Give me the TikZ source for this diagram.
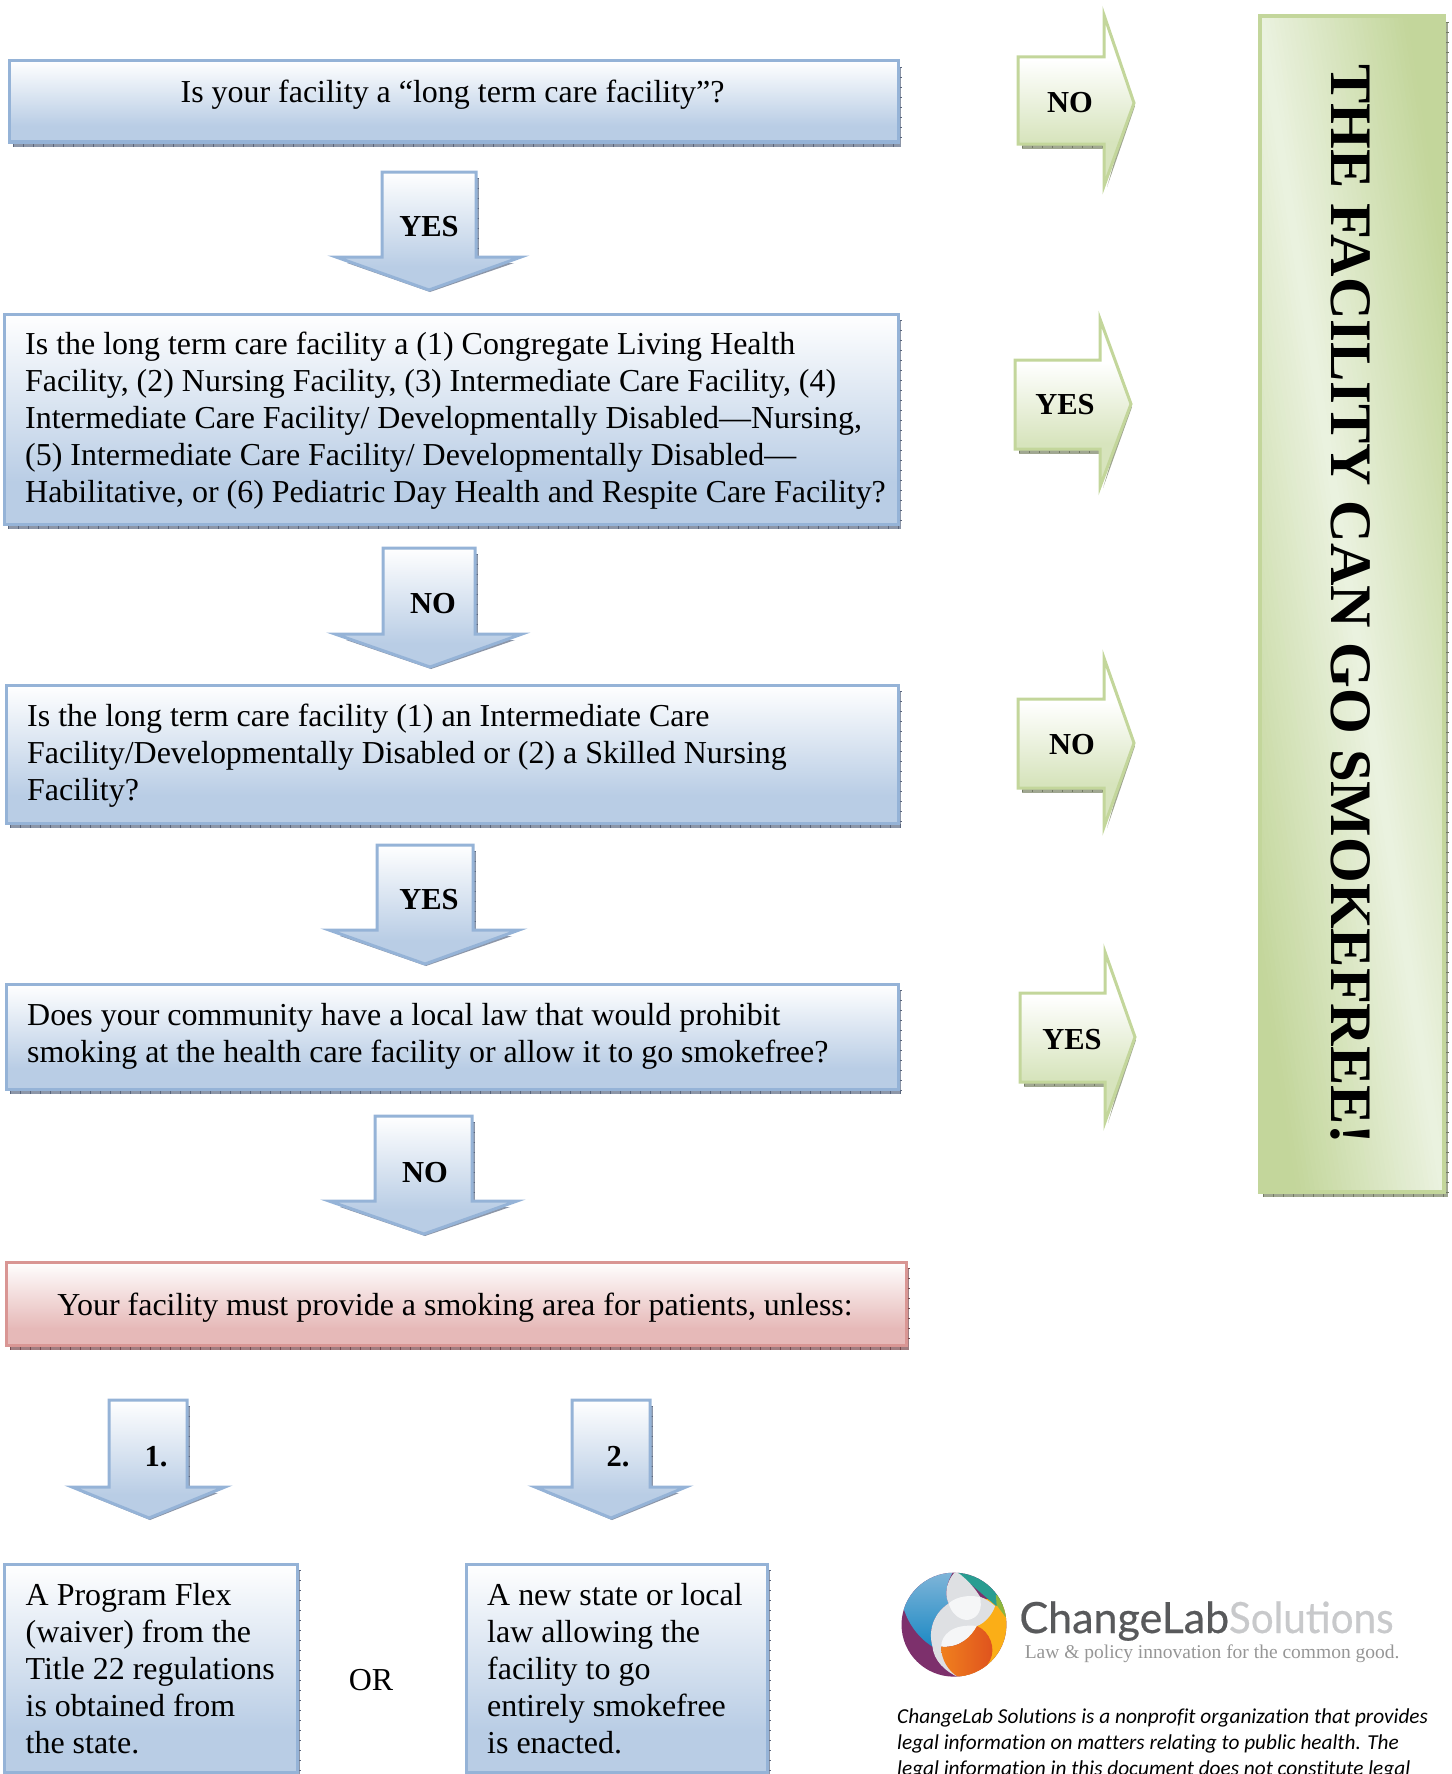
\documentclass[tikz,border=0pt]{standalone}
\usepackage{fontspec}
\setmainfont{Liberation Serif}
\newfontfamily\calibrifont[Ligatures=NoCommon]{Carlito}
\newfontfamily\logofont{Lato}
\newfontfamily\logoheavy[FakeBold=0.5]{Lato}
\definecolor{bl}{HTML}{B9CDE5}
\definecolor{bledge}{HTML}{95B3D7}
\definecolor{rd}{HTML}{E6B9B8}
\definecolor{rdedge}{HTML}{D99694}
\definecolor{gr}{HTML}{D7E4BD}
\definecolor{grdeep}{HTML}{C3D69B}
\definecolor{grlight}{HTML}{EBF2E0}
\pgfdeclareverticalshading{blueg}{100bp}{color(0bp)=(bl); color(35bp)=(bl); color(75bp)=(white); color(100bp)=(white)}
\pgfdeclareverticalshading{redg}{100bp}{color(0bp)=(rd); color(35bp)=(rd); color(75bp)=(white); color(100bp)=(white)}
\pgfdeclareverticalshading{greeng}{100bp}{color(0bp)=(gr); color(38bp)=(gr); color(62bp)=(white); color(100bp)=(white)}
\tikzset{
  blueface/.style={shading=blueg,draw=bledge,line width=3pt,miter limit=20},
  redface/.style={shading=redg,draw=rdedge,line width=3pt,miter limit=20},
  greenface/.style={shading=greeng,draw=grdeep,line width=3pt,miter limit=20},
  blueshadow/.style={fill={rgb,255:red,140;green,150;blue,168}},
  redshadow/.style={fill={rgb,255:red,160;green,125;blue,128}},
  greenshadow/.style={fill={rgb,255:red,160;green,167;blue,145}},
  blueticks/.style={draw={rgb,255:red,90;green,102;blue,125},line width=4pt,dash pattern=on 1pt off 9pt},
  redticks/.style={draw={rgb,255:red,120;green,75;blue,78},line width=4pt,dash pattern=on 1pt off 9pt},
  greenticks/.style={draw={rgb,255:red,115;green,122;blue,100},line width=4pt,dash pattern=on 1pt off 9pt},
  body/.style={inner sep=0pt,anchor=north west,align=left,font=\fontsize{31.95}{37}\selectfont},
  centred/.style={inner sep=0pt,anchor=base,font=\fontsize{31.95}{37}\selectfont},
  tag/.style={inner sep=0pt,anchor=base,font=\fontsize{30.5}{36}\selectfont\bfseries},
}
\newcommand{\fl}{\rule{0pt}{24pt}}
% x1 y1 x2 y2 kind
\newcommand{\panel}[5]{%
  \fill[#5shadow] (#1+4,#2+6) rectangle (#3+3,#4+4.5);
  \draw[#5ticks] (#1+4,#4+2.5) -- (#3+3,#4+2.5);
  \draw[#5ticks] (#3+1.5,#2+6) -- (#3+1.5,#4+2);
  \path[#5face] (#1,#2) rectangle (#3,#4);
}
% shaftL shaftR top shaftBot headL headR tipX tipY
\newcommand{\downblock}[8]{%
  \fill[blueshadow] (#2,#3+6) -- (#2+3,#3+6) -- (#2+3,#4) -- (#2,#4) -- cycle;
  \fill[blueshadow] (#6-14,#4+6) -- (#7+1,#8+2) -- (#5+18,#4+6) -- cycle;
  \draw[blueticks,line width=2pt] (#2+2,#3+6) -- (#2+2,#4);
  \path[blueface] (#1,#3) -- (#2,#3) -- (#2,#4) -- (#6-7,#4) -- (#7,#8) -- (#5+7,#4) -- (#1,#4) -- cycle;
}
% shaftL shaftT shaftB headX headT headB tipX tipY
\newcommand{\rightblock}[8]{%
  \fill[greenshadow] (#1+4,#3) -- (#1+4,#3+5) -- (#4,#3+5) -- (#4,#3) -- cycle;
  \fill[greenshadow] (#4+3,#6-6) -- (#7+1,#8+3) -- (#7-3,#8) -- cycle;
  \draw[greenticks,line width=2pt] (#1+4,#3+3) -- (#4,#3+3);
  \path[greenface] (#1,#2) -- (#4,#2) -- (#4,#5+7) -- (#7,#8) -- (#4,#6-7) -- (#4,#3) -- (#1,#3) -- cycle;
}
\begin{document}
\begin{tikzpicture}[x=1pt,y=-1pt]
\useasboundingbox (0,0) rectangle (1451,1774);
\clip (0,0) rectangle (1451,1774);

% question panels
\panel{9}{61}{898}{142}{blue}
\panel{4}{314}{898}{524}{blue}
\panel{6}{685}{898}{823}{blue}
\panel{6}{984}{898}{1089}{blue}
\panel{6}{1262}{906}{1345}{red}
\panel{4}{1564}{297}{1772}{blue}
\panel{466}{1564}{767}{1772}{blue}

\node[centred] (q1) at (452.5,103) {Is your facility a “long term care facility”?};
\node[body] (q2) at (25,330) {\fl Is the long term care facility a (1) Congregate Living Health\\Facility, (2) Nursing Facility, (3) Intermediate Care Facility, (4)\\Intermediate Care Facility/ Developmentally Disabled—Nursing,\\(5) Intermediate Care Facility/ Developmentally Disabled—\\Habilitative, or (6) Pediatric Day Health and Respite Care Facility?};
\node[body] (q3) at (27,702.5) {\fl Is the long term care facility (1) an Intermediate Care\\Facility/Developmentally Disabled or (2) a Skilled Nursing\\Facility?};
\node[body] (q4) at (27,1001) {\fl Does your community have a local law that would prohibit\\smoking at the health care facility or allow it to go smokefree?};
\node[centred] (q5) at (455,1315) {Your facility must provide a smoking area for patients, unless:};
\node[body] (opt1) at (25.5,1581) {\fl A Program Flex\\(waiver) from the\\Title 22 regulations\\is obtained from\\the state.};
\node[body] (opt2) at (487,1581) {\fl A new state or local\\law allowing the\\facility to go\\entirely smokefree\\is enacted.};
\node[centred] (or) at (371,1690) {OR};

% down arrows
\downblock{382}{476}{172}{257}{329}{528}{429}{290}
\downblock{383}{475}{548}{634}{328}{529}{430}{667}
\downblock{377}{473}{845}{930}{322}{526}{425}{964}
\downblock{375}{472}{1116}{1201}{322}{524}{424}{1234}
\downblock{109}{187}{1400}{1487}{65}{232}{149}{1518}
\downblock{572}{650}{1400}{1487}{528}{693}{611}{1518}
\node[tag] (d1) at (429,236) {YES};
\node[tag] (d2) at (433,613) {NO};
\node[tag] (d3) at (429,909) {YES};
\node[tag] (d4) at (425,1182) {NO};
\node[tag] (d5) at (156,1466) {1.};
\node[tag] (d6) at (618,1466) {2.};

% right arrows
\rightblock{1018}{57}{144}{1104}{8}{193}{1134}{103}
\rightblock{1015}{360}{449}{1100}{312}{494}{1131}{404}
\rightblock{1018}{699}{788}{1104}{651}{834}{1134}{743}
\rightblock{1020}{993}{1082}{1105}{945}{1129}{1135}{1037}
\node[tag] (r1) at (1070,113) {NO};
\node[tag] (r2) at (1065,414) {YES};
\node[tag] (r3) at (1072,754) {NO};
\node[tag] (r4) at (1072,1049) {YES};

% result panel
\fill[greenshadow] (1263,22) rectangle (1448,1197);
\draw[greenticks] (1263,1195) -- (1448,1195);
\draw[greenticks] (1446.5,22) -- (1446.5,1195);
\begin{scope}
  \clip (1260,16) rectangle (1444,1192);
  \foreach \i in {0,...,79}{
    \pgfmathsetmacro{\tl}{-1+\i/40}
    \pgfmathsetmacro{\tr}{\tl+0.04}
    \pgfmathsetmacro{\mixv}{100*max(0,1-abs(\tl+0.0125)/0.8)}
    \fill[color=grlight!\mixv!grdeep] ({1260+\tl*184},16) -- ({1260+\tr*184},16) -- ({1444+\tr*184},1192) -- ({1444+\tl*184},1192) -- cycle;
  }
\end{scope}
\draw[grdeep,line width=3.5pt] (1260,16) rectangle (1444,1192);
\node[inner sep=0pt,anchor=base west,rotate=-90,font=\fontsize{58.8}{60}\selectfont\bfseries] (result) at (1331,64) {THE FACILITY CAN GO SMOKEFREE!};

% logo
\begin{scope}[shift={(860,1540)},x=0.3774pt,y=-0.3333pt]
  \begin{scope}
    \clip (249,254) ellipse [x radius=139,y radius=156];
    \fill[color={rgb,255:red,125;green,48;blue,108}] (100,90) rectangle (400,420);
    \fill[color={rgb,255:red,251;green,174;blue,23}] (300,170) -- (400,190) -- (400,420) -- (265,420) -- cycle;
    \fill[color={rgb,255:red,41;green,157;blue,145}] (250,90) -- (400,90) -- (400,200) -- (360,197) -- cycle;
    \fill[color={rgb,255:red,141;green,182;blue,60}] (360,165) -- (400,165) -- (400,240) -- (385,230) -- (362,195) -- cycle;
    \shade[top color={rgb,255:red,130;green,182;blue,217},bottom color={rgb,255:red,28;green,137;blue,196}] (250,90) .. controls (225,130) and (225,170) .. (235,190) .. controls (195,220) and (180,270) .. (192,320) .. controls (150,290) and (120,240) .. (110,180) -- (110,90) -- cycle;
    \fill[color={rgb,255:red,222;green,224;blue,227}] (250,98) .. controls (225,130) and (225,170) .. (235,190) .. controls (195,220) and (180,270) .. (192,320) .. controls (195,360) and (225,395) .. (262,412) .. controls (230,380) and (215,350) .. (215,320) -- (310,258) .. controls (330,250) and (350,225) .. (358,198) .. controls (345,185) and (330,175) .. (318,170) .. controls (305,145) and (285,120) .. (262,100) -- cycle;
    \fill[color={rgb,255:red,245;green,246;blue,247}] (235,190) .. controls (260,165) and (300,165) .. (318,172) .. controls (325,205) and (315,235) .. (285,240) .. controls (260,240) and (240,215) .. (235,190) -- cycle;
    \fill[color={rgb,255:red,245;green,246;blue,247}] (215,320) .. controls (215,285) and (245,250) .. (310,258) .. controls (295,290) and (265,325) .. (215,320) -- cycle;
    \shade[left color={rgb,255:red,240;green,128;blue,30},right color={rgb,255:red,222;green,80;blue,30}] (215,320) .. controls (265,325) and (295,290) .. (310,258) .. controls (345,275) and (360,325) .. (345,360) .. controls (330,395) and (295,412) .. (262,412) .. controls (235,395) and (215,360) .. (215,320) -- cycle;
  \end{scope}
  \node[inner sep=0pt,anchor=base west,font=\logoheavy\fontsize{43}{43}\selectfont,text={rgb,255:red,88;green,89;blue,91}] (logo1) at (422,279) {ChangeLab};
  \node[inner sep=0pt,anchor=base west,font=\logoheavy\fontsize{43}{43}\selectfont,text={rgb,255:red,200;green,201;blue,203}] (logo2) at (977,279) {\scalebox{0.94}[1]{Solutions}};
  \node[inner sep=0pt,anchor=base west,font=\fontsize{19.5}{20}\selectfont,text={rgb,255:red,150;green,150;blue,150}] (logo3) at (436,355) {Law \& policy innovation for the common good.};
\end{scope}
\node[inner sep=0pt,anchor=north west,align=left,font=\calibrifont\itshape\fontsize{21.3}{26}\selectfont] (foot) at (897,1705) {\rule{0pt}{18pt}ChangeLab Solutions is a nonprofit organization that provides\\legal information on matters relating to public health. The\\legal information in this document does not constitute legal};
\end{tikzpicture}
\end{document}
